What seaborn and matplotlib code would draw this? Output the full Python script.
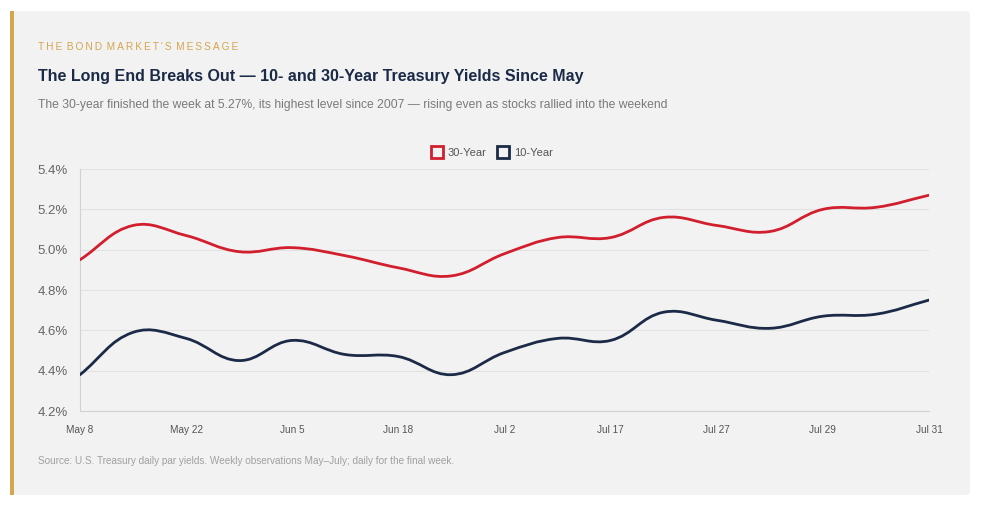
import numpy as np
import pandas as pd
import matplotlib
matplotlib.use("Agg")
import matplotlib.pyplot as plt
import seaborn as sns
from matplotlib.patches import FancyBboxPatch, Rectangle, PathPatch
from matplotlib.path import Path
from matplotlib.lines import Line2D
from matplotlib.ticker import FuncFormatter

# ---- data ----
dates = ["May 8", "May 15", "May 22", "May 29", "Jun 5", "Jun 12", "Jun 18", "Jun 25",
         "Jul 2", "Jul 10", "Jul 17", "Jul 24", "Jul 27", "Jul 28", "Jul 29", "Jul 30", "Jul 31"]
tick_labels = ["May 8", "May 22", "Jun 5", "Jun 18", "Jul 2", "Jul 17", "Jul 27", "Jul 29", "Jul 31"]
y30 = [4.95, 5.12, 5.07, 4.99, 5.01, 4.97, 4.91, 4.87, 4.98, 5.06, 5.06, 5.16, 5.12, 5.09, 5.20, 5.21, 5.27]
y10 = [4.38, 4.59, 4.56, 4.45, 4.55, 4.48, 4.47, 4.38, 4.49, 4.56, 4.55, 4.69, 4.65, 4.61, 4.67, 4.68, 4.75]
series_names = ["30-Year", "10-Year"]
colors = {"30-Year": "#d21f2e", "10-Year": "#1b2a47"}

sns.set_theme(style="white")
plt.rcParams["font.family"] = ["Liberation Sans", "DejaVu Sans"]

W, H = 987, 511
fig = plt.figure(figsize=(W / 100, H / 100), dpi=100)
fig.patch.set_facecolor("white")

card_bg = "#f2f2f2"
# card
fig.patches.append(FancyBboxPatch((10 / W, (H - 495) / H), 960 / W, 484 / H,
                                  boxstyle="round,pad=0,rounding_size=0.006",
                                  transform=fig.transFigure, facecolor=card_bg,
                                  edgecolor="none", zorder=-3))
fig.patches.append(Rectangle((10 / W, (H - 495) / H), 4 / W, 484 / H,
                             transform=fig.transFigure, facecolor="#d4a64e",
                             edgecolor="none", zorder=-2))

def fy(py):
    return 1 - py / H

kicker = "THE BOND MARKET'S MESSAGE"
fig.text(38 / W, fy(47), "\u2009".join(kicker).replace("\u2009 \u2009", "\u2005\u2009"),
         fontsize=7.3, color="#d4a64e", va="center", ha="left")
fig.text(38 / W, fy(77), "The Long End Breaks Out \u2014 10- and 30-Year Treasury Yields Since May",
         fontsize=11.5, fontweight="bold", color="#1b2a47", va="center", ha="left")
fig.text(38 / W, fy(105), "The 30-year finished the week at 5.27%, its highest level since 2007 \u2014 rising even as stocks rallied into the weekend",
         fontsize=8.7, color="#7a7a7a", va="center", ha="left")
fig.text(38 / W, fy(461), "Source: U.S. Treasury daily par yields. Weekly observations May\u2013July; daily for the final week.",
         fontsize=7.2, color="#a0a0a0", va="center", ha="left")

ax = fig.add_axes([80 / W, fy(411), 849 / W, 242 / H])
ax.set_facecolor(card_bg)

df = pd.DataFrame({
    "idx": list(range(len(dates))) * 2,
    "date": dates * 2,
    "yield": y30 + y10,
    "series": ["30-Year"] * len(dates) + ["10-Year"] * len(dates),
})
sns.lineplot(data=df, x="idx", y="yield", hue="series", hue_order=series_names,
             palette=colors, ax=ax, legend=False, linewidth=2)

ax.set_xlim(0, len(dates) - 1)
ax.set_ylim(4.2, 5.4)
ax.set_yticks([4.2, 4.4, 4.6, 4.8, 5.0, 5.2, 5.4])
ax.yaxis.set_major_formatter(FuncFormatter(lambda v, p: f"{v:.1f}%"))
tick_pos = [dates.index(t) for t in tick_labels]
ax.set_xticks(tick_pos)
ax.set_xticklabels(tick_labels)
ax.set_xlabel("")
ax.set_ylabel("")
ax.grid(axis="y", color="#e2e2e2", linewidth=0.8)
ax.set_axisbelow(True)
for s in ["top", "right"]:
    ax.spines[s].set_visible(False)
for s in ["left", "bottom"]:
    ax.spines[s].set_color("#d2d2d2")
    ax.spines[s].set_linewidth(0.8)
ax.tick_params(axis="y", length=6, color="#e2e2e2", width=0.8, labelsize=9.5, labelcolor="#666666", pad=3)
ax.tick_params(axis="x", length=0, labelsize=7.2, labelcolor="#555555", pad=10)

# smooth the seaborn lines (display style: cardinal spline, tension 0.4)
fig.canvas.draw()
tension = 0.4
for line in list(ax.lines):
    xy = line.get_xydata()
    pts = ax.transData.transform(xy)
    n = len(pts)
    cps_prev = np.zeros_like(pts)
    cps_next = np.zeros_like(pts)
    for i in range(n):
        p0 = pts[max(i - 1, 0)]
        p1 = pts[i]
        p2 = pts[min(i + 1, n - 1)]
        d01 = np.hypot(*(p1 - p0))
        d12 = np.hypot(*(p2 - p1))
        tot = d01 + d12
        s01 = d01 / tot if tot else 0
        s12 = d12 / tot if tot else 0
        cps_prev[i] = p1 - tension * s01 * (p2 - p0)
        cps_next[i] = p1 + tension * s12 * (p2 - p0)
    verts = [pts[0]]
    codes = [Path.MOVETO]
    for i in range(n - 1):
        verts += [cps_next[i], cps_prev[i + 1], pts[i + 1]]
        codes += [Path.CURVE4] * 3
    verts = ax.transData.inverted().transform(np.array(verts))
    patch = PathPatch(Path(verts, codes), facecolor="none", edgecolor=line.get_color(),
                      linewidth=2, transform=ax.transData, capstyle="round", joinstyle="round", zorder=3)
    ax.add_patch(patch)
    line.set_visible(False)

handles = [Line2D([], [], linestyle="none", marker="s", markersize=8.3, markerfacecolor=card_bg,
                  markeredgecolor=colors[n], markeredgewidth=2, label=n) for n in series_names]
fig.legend(handles=handles, loc="center", bbox_to_anchor=(492 / W, fy(153)), ncol=2, frameon=False,
           fontsize=8, labelcolor="#555555", handletextpad=0.45, columnspacing=1.0, handlelength=1.0)

fig.savefig("out.png", dpi=100, facecolor="white")
